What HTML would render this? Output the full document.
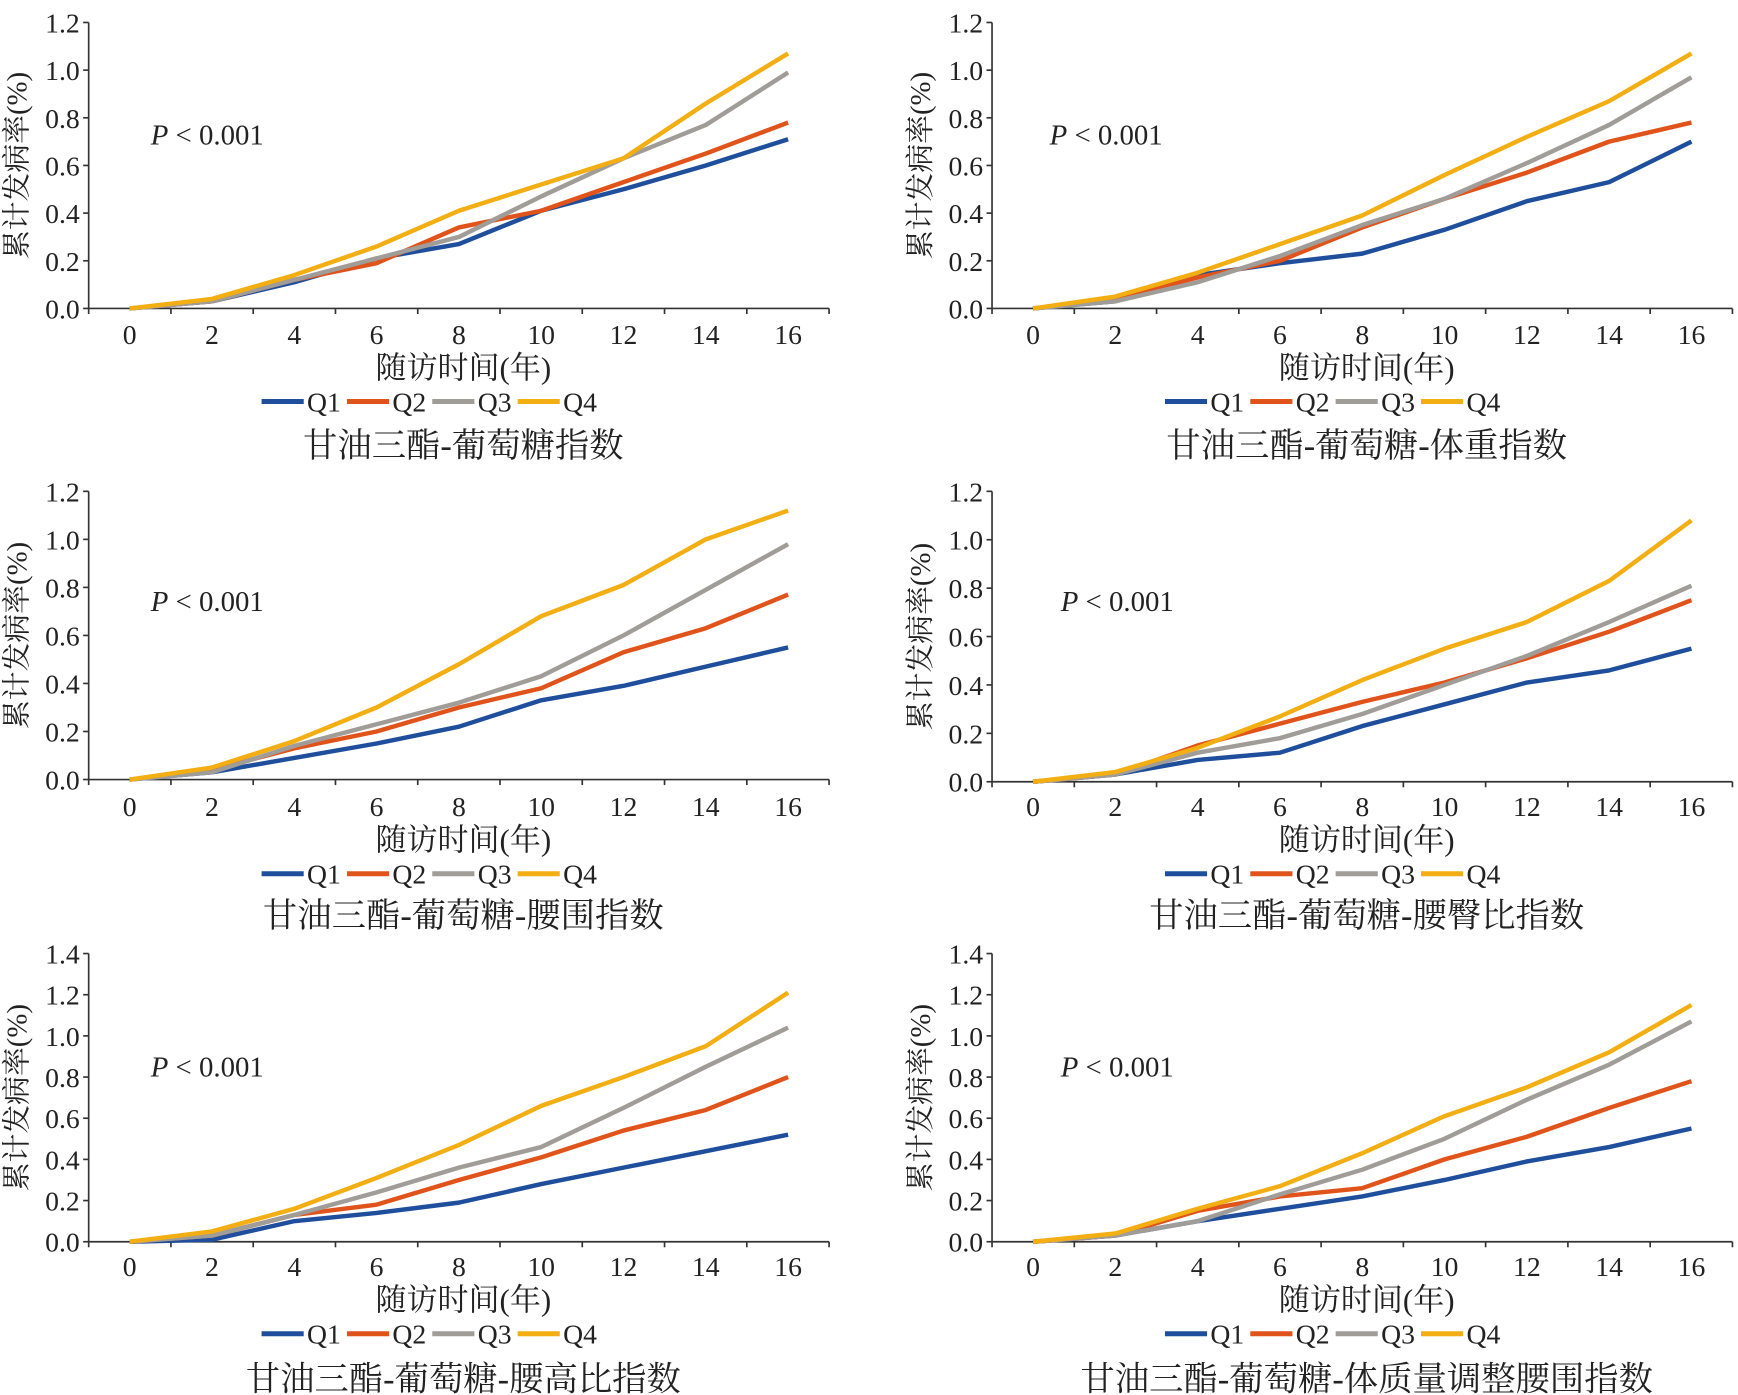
<!DOCTYPE html>
<html><head><meta charset="utf-8"><style>
html,body{margin:0;padding:0;background:#fff;}
svg{display:block;}
text{font-family:"Liberation Serif","Noto Serif CJK SC",serif;fill:#222;}
</style></head><body>
<svg id="s" width="1738" height="1395" viewBox="0 0 1568 1258" xmlns="http://www.w3.org/2000/svg"></svg>
<script>
const S=document.getElementById('s');let h='';
const cols=['#1f4e9c','#e0531b','#a09c98','#f2ae13'];
const panels=[
 {ox:0,y0:278,yt:20,max:1.2,row:0,px:136,title:'甘油三酯-葡萄糖指数',d:[
  [0,0.03,0.11,0.21,0.27,0.41,0.50,0.60,0.71],[0,0.03,0.12,0.19,0.34,0.41,0.53,0.65,0.78],
  [0,0.03,0.12,0.21,0.30,0.47,0.63,0.77,0.99],[0,0.04,0.14,0.26,0.41,0.52,0.63,0.86,1.07]]},
 {ox:815,y0:278,yt:20,max:1.2,row:0,px:947,title:'甘油三酯-葡萄糖-体重指数',d:[
  [0,0.03,0.14,0.19,0.23,0.33,0.45,0.53,0.70],[0,0.04,0.13,0.20,0.34,0.46,0.57,0.70,0.78],
  [0,0.03,0.11,0.22,0.35,0.46,0.61,0.77,0.97],[0,0.05,0.15,0.27,0.39,0.56,0.72,0.87,1.07]]},
 {ox:0,y0:703,yt:443,max:1.2,row:1,px:136,title:'甘油三酯-葡萄糖-腰围指数',d:[
  [0,0.03,0.09,0.15,0.22,0.33,0.39,0.47,0.55],[0,0.04,0.13,0.20,0.30,0.38,0.53,0.63,0.77],
  [0,0.03,0.14,0.23,0.32,0.43,0.60,0.79,0.98],[0,0.05,0.16,0.30,0.48,0.68,0.81,1.00,1.12]]},
 {ox:815,y0:705,yt:443,max:1.2,row:1,px:957,title:'甘油三酯-葡萄糖-腰臀比指数',d:[
  [0,0.03,0.09,0.12,0.23,0.32,0.41,0.46,0.55],[0,0.03,0.15,0.24,0.33,0.41,0.51,0.62,0.75],
  [0,0.03,0.12,0.18,0.28,0.40,0.52,0.66,0.81],[0,0.04,0.14,0.27,0.42,0.55,0.66,0.83,1.08]]},
 {ox:0,y0:1120,yt:860,max:1.4,row:2,px:136,title:'甘油三酯-葡萄糖-腰高比指数',d:[
  [0,0.01,0.10,0.14,0.19,0.28,0.36,0.44,0.52],[0,0.03,0.13,0.18,0.30,0.41,0.54,0.64,0.80],
  [0,0.03,0.13,0.24,0.36,0.46,0.65,0.85,1.04],[0,0.05,0.16,0.31,0.47,0.66,0.80,0.95,1.21]]},
 {ox:815,y0:1120,yt:860,max:1.4,row:2,px:957,title:'甘油三酯-葡萄糖-体质量调整腰围指数',d:[
  [0,0.03,0.10,0.16,0.22,0.30,0.39,0.46,0.55],[0,0.03,0.15,0.22,0.26,0.40,0.51,0.65,0.78],
  [0,0.03,0.10,0.23,0.35,0.50,0.69,0.86,1.07],[0,0.04,0.16,0.27,0.43,0.61,0.75,0.92,1.15]]}
];
const rowY=[[301,331,362,401],[727,757,788,825],[1142,1172,1203,1243]];
panels.forEach(p=>{
 const ax=80+p.ox, ex=748+p.ox, sc=(p.y0-p.yt)/p.max;
 const Y=v=>p.y0-v*sc, X=i=>117+p.ox+i*74.25;
 h+=`<line x1="${ax}" y1="${p.yt}" x2="${ax}" y2="${p.y0}" stroke="#333" stroke-width="1.5"/>`;
 h+=`<line x1="${ax}" y1="${p.y0}" x2="${ex}" y2="${p.y0}" stroke="#333" stroke-width="1.5"/>`;
 for(let v=0;v<=p.max+1e-9;v+=0.2){const y=Y(v);
  h+=`<line x1="${ax-5}" y1="${y}" x2="${ax}" y2="${y}" stroke="#333" stroke-width="1.5"/>`;
  h+=`<text x="${ax-8}" y="${y+9}" font-size="25" text-anchor="end">${v.toFixed(1)}</text>`;}
 for(let i=0;i<10;i++){const x=ax+i*74.22;h+=`<line x1="${x}" y1="${p.y0}" x2="${x}" y2="${p.y0+5}" stroke="#333" stroke-width="1.5"/>`;}
 const r=rowY[p.row];
 for(let i=0;i<9;i++)h+=`<text x="${X(i)}" y="${r[0]+9}" font-size="25" text-anchor="middle">${i*2}</text>`;
 h+=`<text x="${418+p.ox}" y="${r[1]+10}" font-size="28" text-anchor="middle">随访时间(年)</text>`;
 ['Q1','Q2','Q3','Q4'].forEach((q,k)=>{const lx=236+p.ox+k*77;
  h+=`<line x1="${lx}" y1="${r[2]}" x2="${lx+38}" y2="${r[2]}" stroke="${cols[k]}" stroke-width="4.5"/>`;
  h+=`<text x="${lx+41}" y="${r[2]+9}" font-size="25">${q}</text>`;});
 h+=`<text x="${418+p.ox}" y="${r[3]+11}" font-size="31" text-anchor="middle">${p.title}</text>`;
 const cy=(p.y0+p.yt)/2;
 h+=`<text transform="translate(${24+p.ox},${cy}) rotate(-90)" font-size="26" text-anchor="middle">累计发病率(%)</text>`;
 h+=`<text x="${p.px}" y="${(p.row==0?121:p.row==1?542:962)+9}" font-size="26"><tspan font-style="italic">P</tspan> &lt; 0.001</text>`;
 p.d.forEach((s,k)=>{h+=`<polyline fill="none" stroke="${cols[k]}" stroke-width="4" stroke-linejoin="round" points="${s.map((v,i)=>X(i)+','+Y(v)).join(' ')}"/>`;});
});
S.innerHTML=h;
</script>
</body></html>
